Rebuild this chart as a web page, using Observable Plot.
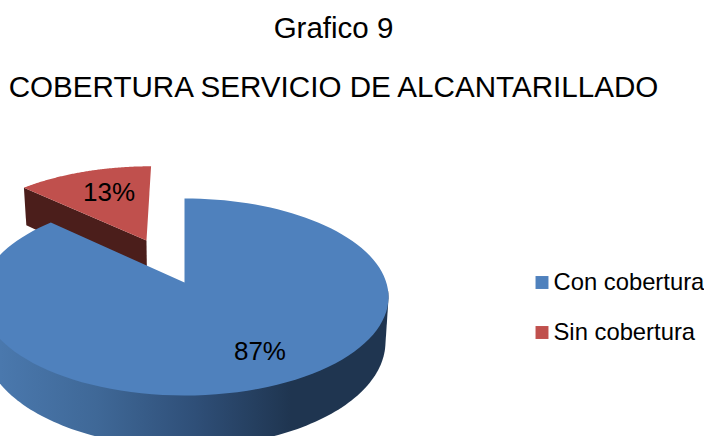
<!DOCTYPE html>
<html><head><meta charset="utf-8">
<style>html,body{margin:0;padding:0;background:#fff}svg{display:block}</style>
<script src="https://cdn.jsdelivr.net/npm/d3@7"></script>
<script src="https://cdn.jsdelivr.net/npm/@observablehq/plot@0.6"></script>
</head><body><div id="chart"></div>
<script>
const categories = ["Con cobertura", "Sin cobertura"];
const shares = [87, 13];
const faceColors = ["#4f81bd", "#c0504d"];
const sideColors = ["url(#blueWall)", "#4b1e1b"];
const chartTitle = "Grafico 9";
const chartSubtitle = "COBERTURA SERVICIO DE ALCANTARILLADO";

// perspective pie view
const view = {cx: 184, cy: 282, R: 201.8, H: 96.4, k: 0.147, depth: 44, shrink: 0.985, explode: 0.507};
const rad = d => d * Math.PI / 180;
function top3d(u, v) {
  const w = 1 + view.k * v;
  return {x: view.cx + view.R * u / w, y: view.cy - view.H * v / w};
}
function bottom3d(u, v) {
  const w = 1 + view.k * v;
  return {x: view.cx + view.shrink * view.R * u / w, y: view.cy - view.H * v / w + view.depth / w};
}
const sweep = shares.map(s => s / d3.sum(shares) * 360);
const blueEnd = sweep[0];
const redStart = blueEnd, redEnd = 360;
const arc = (a, b, f, ox = 0, oy = 0) => d3.range(0, 121).map(i => {
  const t = rad(a + (b - a) * i / 120);
  return f(ox + Math.sin(t), oy + Math.cos(t));
});

// slice 0 stays at the centre
const blueFace = [top3d(0, 0), ...arc(0, blueEnd, top3d)];
const wallPoints = [...arc(95, 265, top3d), ...arc(95, 265, bottom3d)];
const blueWall = d3.polygonHull(wallPoints.map(p => [p.x, p.y])).map(([x, y]) => ({x, y}));

// slice 1 is pulled out along its bisector
const mid = rad((redStart + redEnd) / 2);
const ox = view.explode * Math.sin(mid), oy = view.explode * Math.cos(mid);
const redFace = [top3d(ox, oy), ...arc(redStart, redEnd, top3d, ox, oy)];
const corner = [ox + Math.sin(rad(redStart)), oy + Math.cos(rad(redStart))];
const redWall = [top3d(ox, oy), top3d(...corner), bottom3d(...corner), bottom3d(ox, oy)];

const blueMid = rad(blueEnd / 2);
const labelAt = (t, p, shift) => ({t, x: p.x + shift, y: p.y});
const labels = [
  labelAt(shares[0] + "%", top3d(0.705 * Math.sin(blueMid), 0.705 * Math.cos(blueMid)), 13),
  labelAt(shares[1] + "%", top3d(ox + 0.67 * Math.sin(mid), oy + 0.67 * Math.cos(mid)), 6)
];
const legend = categories.map((c, i) => ({c, color: faceColors[i], y: 282 + i * 50}));

const font = "Liberation Sans, Arial, sans-serif";
const poly = (pts, fill) => Plot.line(pts, {x: "x", y: "y", fill, stroke: "none", curve: "linear"});

const wallDefs = () => {
  const svg = d3.create("svg:defs");
  const g = svg.append("linearGradient").attr("id", "blueWall")
    .attr("gradientUnits", "userSpaceOnUse").attr("x1", 0).attr("x2", 388).attr("y1", 0).attr("y2", 0);
  [[0, "#4a78ad"], [0.25, "#3f6897"], [0.5, "#2f4f78"], [0.75, "#1f3550"], [1, "#1f3550"]]
    .forEach(([o, c]) => g.append("stop").attr("offset", o).attr("stop-color", c));
  return svg.node();
};

const chart = Plot.plot({
  width: 704, height: 436, margin: 0,
  x: {domain: [0, 704], axis: null},
  y: {domain: [0, 436], axis: null, reverse: true},
  marks: [
    wallDefs,
    poly(redWall, sideColors[1]),
    poly(redFace, faceColors[1]),
    poly(blueWall, sideColors[0]),
    poly(blueFace, faceColors[0]),
    Plot.text(labels, {x: "x", y: "y", text: "t", fontSize: 26, fontFamily: font, fill: "#000"}),
    Plot.text([chartTitle], {x: () => 333, y: () => 28, text: d => d, fontSize: 29.5, fontFamily: font, fill: "#000"}),
    Plot.text([chartSubtitle], {x: () => 333, y: () => 87, text: d => d, fontSize: 29.6, fontFamily: font, fill: "#000"}),
    Plot.dot(legend, {x: () => 541.5, y: "y", symbol: "square", r: 7.3, fill: "color", stroke: "none"}),
    Plot.text(legend, {x: () => 553, y: "y", text: "c", textAnchor: "start", fontSize: 23.8, fontFamily: font, fill: "#000"})
  ]
});
document.getElementById("chart").append(chart);
</script></body></html>
